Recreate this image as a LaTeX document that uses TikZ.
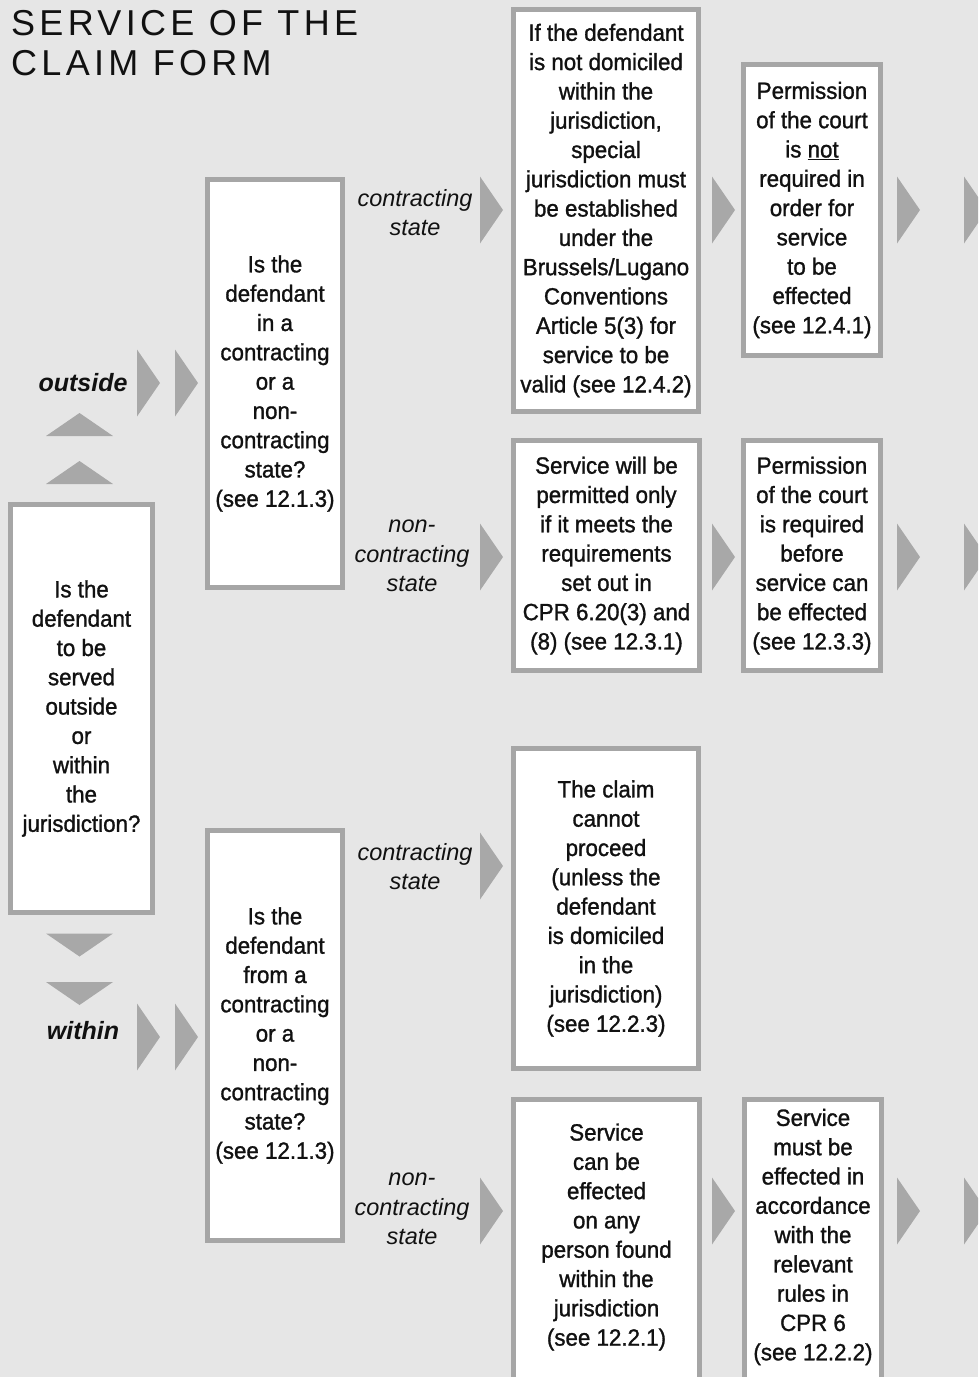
\documentclass[tikz,border=0pt]{standalone}
\usepackage{fontspec}
\setmainfont{Liberation Sans}
\newfontfamily\titlefont[LetterSpace=12]{Liberation Sans}
\newfontfamily\bodyfont[FakeStretch=0.95,FakeBold=1.2]{Liberation Sans}
\definecolor{bggray}{HTML}{E6E6E6}
\definecolor{bordergray}{HTML}{A6A6A6}
\definecolor{arrgray}{HTML}{A8A8A8}
\definecolor{inkc}{HTML}{111111}
\tikzset{
  box/.style={draw=bordergray, line width=5pt, fill=white, inner sep=0pt},
  txt/.style={align=center, text=inkc, inner sep=0pt, font=\fontsize{23.5}{29.3}\selectfont\bodyfont},
  lbl/.style={align=center, text=inkc, inner sep=0pt, font=\fontsize{23.5}{29.3}\selectfont\itshape},
  blbl/.style={align=center, text=inkc, inner sep=0pt, font=\fontsize{25}{29}\selectfont\bfseries\itshape},
  ttl/.style={anchor=base west, text=inkc, inner sep=0pt, font=\fontsize{36}{40}\selectfont\titlefont},
  rtri/.pic={\fill[arrgray] (-11.5,-33.5) -- (11.5,0) -- (-11.5,33.5) -- cycle;},
  utri/.pic={\fill[arrgray] (-33.5,11.5) -- (0,-11.5) -- (33.5,11.5) -- cycle;},
  dtri/.pic={\fill[arrgray] (-33.5,-11.5) -- (0,11.5) -- (33.5,-11.5) -- cycle;}
}
\begin{document}
\begin{tikzpicture}[x=1pt,y=-1pt]
\useasboundingbox (0,0) rectangle (978,1377);
\fill[bggray] (0,0) rectangle (978,1377);
\clip (0,0) rectangle (978,1377);

% title
\node[ttl] (title1) at (11,35) {SERVICE OF THE};
\node[ttl] (title2) at (11,75) {CLAIM FORM};

% boxes
\node[box, minimum width=142, minimum height=408] (A) at (81.5,708.5) {};
\node[txt] (At) at (A.center) {Is the\\defendant\\to be\\served\\outside\\or\\within\\the\\jurisdiction?};

\node[box, minimum width=135, minimum height=408] (B) at (275,383.5) {};
\node[txt] (Bt) at (B.center) {Is the\\defendant\\in a\\contracting\\or a\\non-\\contracting\\state?\\(see 12.1.3)};

\node[box, minimum width=135, minimum height=410] (C) at (275,1035.5) {};
\node[txt] (Ct) at (C.center) {Is the\\defendant\\from a\\contracting\\or a\\non-\\contracting\\state?\\(see 12.1.3)};

\node[box, minimum width=185, minimum height=402] (D) at (606,210.5) {};
\node[txt] (Dt) at (D.center) {If the defendant\\is not domiciled\\within the\\jurisdiction,\\special\\jurisdiction must\\be established\\under the\\Brussels/Lugano\\Conventions\\Article 5(3) for\\service to be\\valid (see 12.4.2)};

\node[box, minimum width=186, minimum height=230] (E) at (606.5,555.5) {};
\node[txt] (Et) at (E.center) {Service will be\\permitted only\\if it meets the\\requirements\\set out in\\CPR 6.20(3) and\\(8) (see 12.3.1)};

\node[box, minimum width=185, minimum height=320] (F) at (606,908.5) {};
\node[txt] (Ft) at (F.center) {The claim\\cannot\\proceed\\(unless the\\defendant\\is domiciled\\in the\\jurisdiction)\\(see 12.2.3)};

\node[box, minimum width=186, minimum height=298] (G) at (606.5,1248.5) {};
\node[txt] (Gt) at (606.5,1237) {Service\\can be\\effected\\on any\\person found\\within the\\jurisdiction\\(see 12.2.1)};

\node[box, minimum width=137, minimum height=291] (H) at (812,210) {};
\node[txt] (Ht) at (H.center) {Permission\\of the court\\is \underline{not}\\required in\\order for\\service\\to be\\effected\\(see 12.4.1)};

\node[box, minimum width=137, minimum height=230] (I) at (812,555.5) {};
\node[txt] (It) at (I.center) {Permission\\of the court\\is required\\before\\service can\\be effected\\(see 12.3.3)};

\node[box, minimum width=137, minimum height=298] (J) at (813,1248.5) {};
\node[txt] (Jt) at (813,1237) {Service\\must be\\effected in\\accordance\\with the\\relevant\\rules in\\CPR 6\\(see 12.2.2)};

% labels
\node[blbl] (outside) at (83,383) {outside};
\node[blbl] (within) at (83,1031) {within};
\node[lbl] (cs1) at (415,212.5) {contracting\\state};
\node[lbl] (ncs1) at (412,556) {non-\\contracting\\state};
\node[lbl] (cs2) at (415,866.5) {contracting\\state};
\node[lbl] (ncs2) at (412,1209) {non-\\contracting\\state};

% arrow triangles
\foreach \y in {383,1037} {
  \pic at (148.5,\y) {rtri};
  \pic at (186.5,\y) {rtri};
}
\pic at (79.5,424.5) {utri};
\pic at (79.5,472.5) {utri};
\pic at (79.5,945) {dtri};
\pic at (79.5,993.5) {dtri};

\foreach \y in {210,557,866,1211} {
  \pic at (491.5,\y) {rtri};
}
\foreach \y in {210,557,1211} {
  \pic at (723.5,\y) {rtri};
  \pic at (908.5,\y) {rtri};
  \pic at (975.5,\y) {rtri};
}
\end{tikzpicture}
\end{document}
